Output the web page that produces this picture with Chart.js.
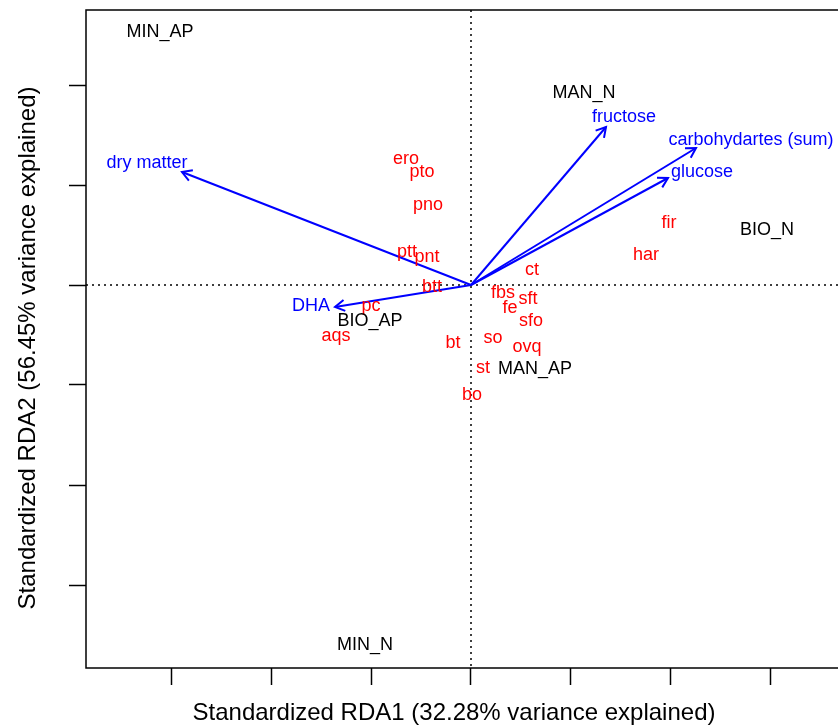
<!DOCTYPE html>
<html>
<head>
<meta charset="utf-8">
<script src="https://cdn.jsdelivr.net/npm/chart.js@4.4.0/dist/chart.umd.min.js"></script>
<style>
  html, body { margin: 0; padding: 0; background: #fff; overflow: hidden; }
  #wrap { width: 838px; height: 726px; overflow: hidden; }
  #box { width: 900px; height: 726px; }
</style>
</head>
<body>
<div id="wrap"><div id="box"><canvas id="rda"></canvas></div></div>
<script>
// Variables explicatives (flèches bleues)
const envNames = ['dry matter', 'fructose', 'carbohydartes (sum)', 'glucose', 'DHA'];
const envX = [-2.89, 1.35, 2.25, 1.97, -1.36];
const envY = [1.13, 1.58, 1.37, 1.07, -0.22];
const envLabelX = [-3.24, 1.53, 2.80, 2.31, -1.60];
const envLabelY = [1.22, 1.68, 1.45, 1.13, -0.21];

// Espèces (texte rouge)
const speciesNames = ['ero', 'pto', 'pno', 'ptt', 'pnt', 'btt', 'ct', 'fbs', 'sft', 'fe',
                      'sfo', 'so', 'ovq', 'bt', 'st', 'bo', 'pc', 'aqs', 'fir', 'har'];
const speciesX = [-0.65, -0.49, -0.43, -0.64, -0.44, -0.39, 0.61, 0.32, 0.57, 0.39,
                  0.60, 0.22, 0.56, -0.18, 0.12, 0.01, -1.00, -1.35, 1.98, 1.75];
const speciesY = [1.26, 1.13, 0.80, 0.33, 0.28, -0.02, 0.15, -0.08, -0.14, -0.23,
                  -0.36, -0.53, -0.62, -0.58, -0.83, -1.10, -0.21, -0.51, 0.62, 0.30];

// Traitements (texte noir)
const groupNames = ['MIN_AP', 'MAN_N', 'BIO_N', 'BIO_AP', 'MAN_AP', 'MIN_N'];
const groupX = [-3.11, 1.13, 2.96, -1.01, 0.64, -1.06];
const groupY = [2.53, 1.92, 0.55, -0.36, -0.84, -3.60];

// Axes
const xTicks = [-3, -2, -1, 0, 1, 2, 3];
const yTicks = [-3, -2, -1, 0, 1, 2];
const xTitle = 'Standardized RDA1 (32.28% variance explained)';
const yTitle = 'Standardized RDA2 (56.45% variance explained)';

const fontFamily = '"Liberation Sans", Arial, sans-serif';

// Pointillés à zéro, cadre, pointes de flèches, étiquettes et titres d'axes
const rdaPlugin = {
    id: 'rdaDecor',
    beforeDatasetsDraw(chart) {
        const { ctx, chartArea: a, scales: { x, y } } = chart;
        const x0 = x.getPixelForValue(0);
        const y0 = y.getPixelForValue(0);
        ctx.save();
        ctx.strokeStyle = '#000';
        ctx.lineWidth = 1.5;
        ctx.setLineDash([2, 4]);
        ctx.beginPath();
        ctx.moveTo(x0, a.top); ctx.lineTo(x0, a.bottom);
        ctx.moveTo(a.left, y0); ctx.lineTo(a.right, y0);
        ctx.stroke();
        ctx.setLineDash([]);
        ctx.strokeRect(a.left, a.top, a.right - a.left, a.bottom - a.top);
        ctx.restore();
    },
    afterDatasetsDraw(chart) {
        const ctx = chart.ctx;
        chart.data.datasets.forEach((ds, i) => {
            const meta = chart.getDatasetMeta(i);
            if (ds.arrow) {
                const p0 = meta.data[0], p1 = meta.data[1];
                const ang = Math.atan2(p1.y - p0.y, p1.x - p0.x);
                const len = 11, spread = Math.PI / 6;
                ctx.save();
                ctx.strokeStyle = ds.borderColor;
                ctx.lineWidth = ds.borderWidth;
                ctx.beginPath();
                ctx.moveTo(p1.x - len * Math.cos(ang - spread), p1.y - len * Math.sin(ang - spread));
                ctx.lineTo(p1.x, p1.y);
                ctx.lineTo(p1.x - len * Math.cos(ang + spread), p1.y - len * Math.sin(ang + spread));
                ctx.stroke();
                ctx.restore();
            }
            if (ds.textLabels) {
                ctx.save();
                ctx.fillStyle = ds.textColor;
                ctx.font = '18px ' + fontFamily;
                ctx.textAlign = 'center';
                ctx.textBaseline = 'middle';
                meta.data.forEach((pt, j) => ctx.fillText(ds.textLabels[j], pt.x, pt.y));
                ctx.restore();
            }
        });
    },
    afterDraw(chart) {
        // titres d'axes (centrés comme dans la figure R d'origine)
        const { ctx, chartArea: a } = chart;
        ctx.save();
        ctx.fillStyle = '#000';
        ctx.font = '24px ' + fontFamily;
        ctx.textAlign = 'center';
        ctx.textBaseline = 'middle';
        ctx.fillText(xTitle, a.left + 368, chart.height - 13);
        ctx.translate(28, a.top + 338);
        ctx.rotate(-Math.PI / 2);
        ctx.fillText(yTitle, 0, 0);
        ctx.restore();
    }
};

function textDataset(names, xs, ys, color) {
    return {
        type: 'scatter',
        data: names.map((n, i) => ({ x: xs[i], y: ys[i] })),
        pointRadius: 0,
        textLabels: names,
        textColor: color
    };
}

const arrowDatasets = envNames.map((n, i) => ({
    type: 'line',
    data: [{ x: 0, y: 0 }, { x: envX[i], y: envY[i] }],
    borderColor: '#0000ff',
    borderWidth: 2,
    pointRadius: 0,
    fill: false,
    arrow: true
}));

const datasets = arrowDatasets.concat([
    textDataset(envNames, envLabelX, envLabelY, '#0000ff'),
    textDataset(speciesNames, speciesX, speciesY, '#ff0000'),
    textDataset(groupNames, groupX, groupY, '#000000')
]);

const tickStyle = { drawOnChartArea: false, drawTicks: true, tickLength: 17, tickColor: '#000', tickWidth: 1.5 };

new Chart(document.getElementById('rda'), {
    type: 'scatter',
    data: { datasets: datasets },
    options: {
        responsive: true,
        maintainAspectRatio: false,
        animation: false,
        layout: { padding: { top: 10, right: 10, left: 0, bottom: 0 } },
        plugins: { legend: { display: false }, tooltip: { enabled: false } },
        scales: {
            x: {
                type: 'linear',
                min: -3.85,
                max: 4.19,
                afterBuildTicks: s => { s.ticks = xTicks.map(v => ({ value: v })); },
                afterFit: s => { s.height = 58; },
                ticks: { display: false },
                grid: tickStyle,
                border: { display: false }
            },
            y: {
                type: 'linear',
                min: -3.83,
                max: 2.75,
                afterBuildTicks: s => { s.ticks = yTicks.map(v => ({ value: v })); },
                afterFit: s => { s.width = 86; },
                ticks: { display: false },
                grid: tickStyle,
                border: { display: false }
            }
        }
    },
    plugins: [rdaPlugin]
});
</script>
</body>
</html>
